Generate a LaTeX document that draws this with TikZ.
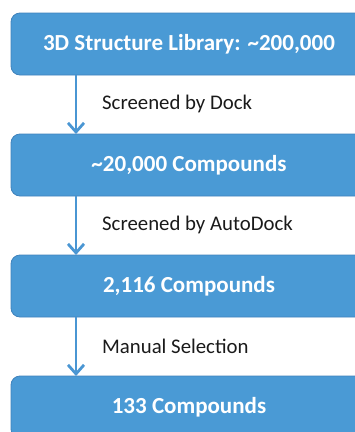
\documentclass[tikz,border=0pt]{standalone}
\usepackage{fontspec}
\setmainfont{Carlito}
\usetikzlibrary{arrows.meta}
\definecolor{boxblue}{HTML}{4A9AD5}
\definecolor{boxedge}{HTML}{3F82BC}
\definecolor{arrowblue}{HTML}{4A96D3}
\definecolor{labelcol}{HTML}{1A1A1A}
\begin{document}
\begin{tikzpicture}[x=1pt,y=1pt,
  stagebox/.style={draw=boxedge, line width=0.8pt, fill=boxblue, rounded corners=9pt,
    minimum width=356pt, minimum height=62pt, inner sep=0pt,
    text=white, font=\fontsize{23}{27}\selectfont\bfseries},
  steplabel/.style={anchor=west, inner sep=0pt, text=labelcol, font=\fontsize{20.8}{24}\selectfont},
  flow/.style={draw=arrowblue, line width=2.8pt, -{Straight Barb[length=9pt,width=16pt,line width=2.8pt]}}]
\path[use as bounding box, clip] (0,0) rectangle (355,-432);
\node[stagebox] (b1) at (189,-44) {3D Structure Library: \textasciitilde200,000};
\node[stagebox] (b2) at (189,-165) {\textasciitilde20,000 Compounds};
\node[stagebox] (b3) at (189,-286) {2,116 Compounds};
\node[stagebox] (b4) at (189,-407) {133 Compounds};
\coordinate (a1s) at (76,-75);
\coordinate (a1e) at (76,-134);
\coordinate (a2s) at (76,-196);
\coordinate (a2e) at (76,-255);
\coordinate (a3s) at (76,-317);
\coordinate (a3e) at (76,-376);
\draw[flow] (a1s) -- (a1e);
\draw[flow] (a2s) -- (a2e);
\draw[flow] (a3s) -- (a3e);
\node[steplabel] (l1) at (102,-104) {Screened by Dock};
\node[steplabel] (l2) at (102,-225) {Screened by AutoDock};
\node[steplabel] (l3) at (102,-346) {Manual Selection};
\end{tikzpicture}
\end{document}
